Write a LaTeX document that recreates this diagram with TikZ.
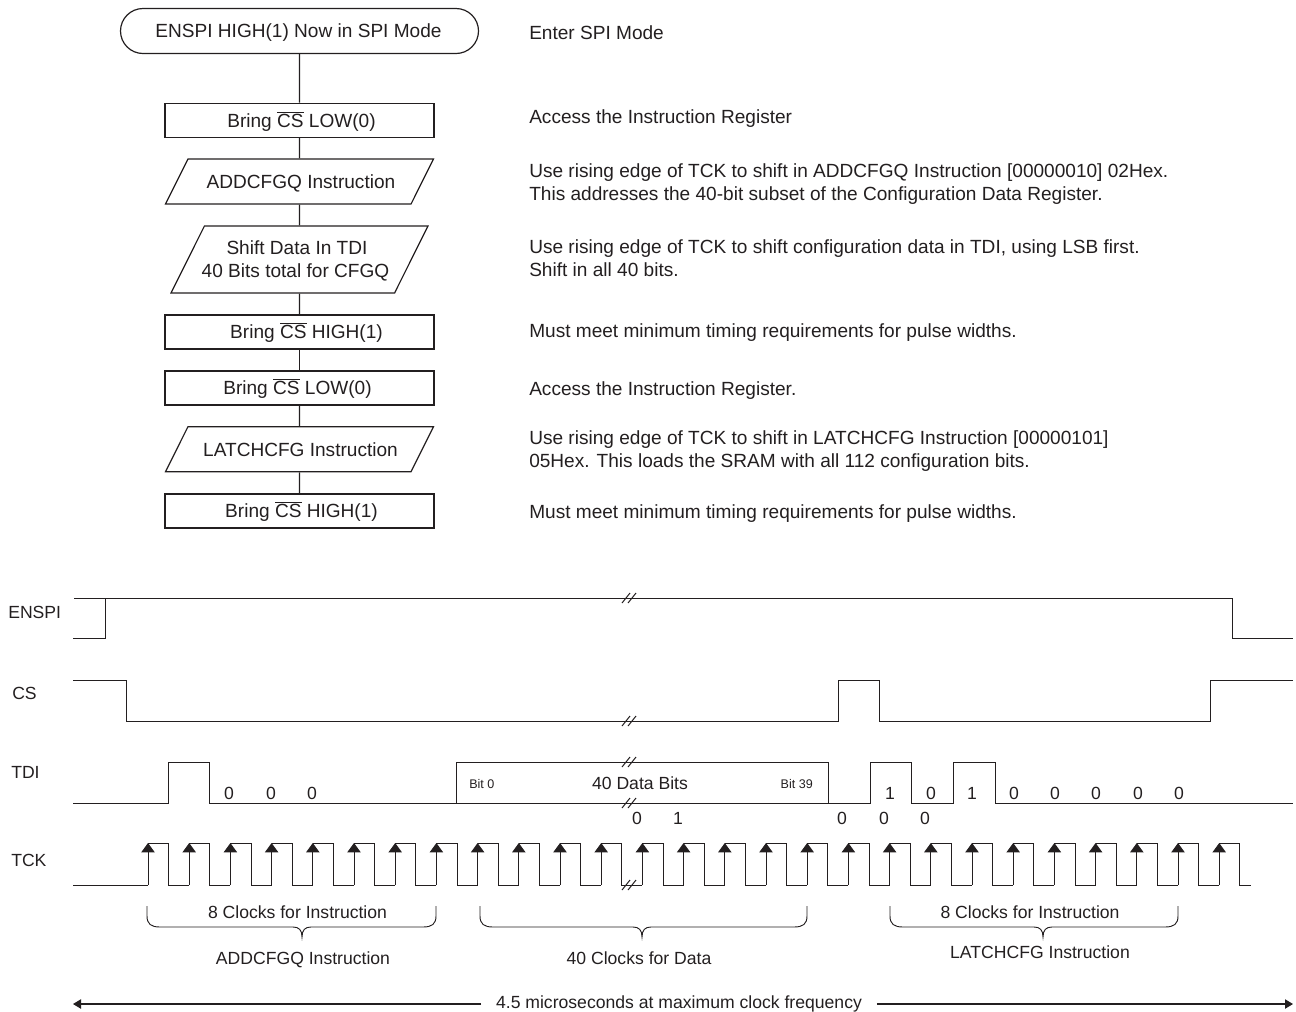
\documentclass[tikz,border=0pt]{standalone}
\usepackage{fontspec}
\setmainfont{Liberation Sans}
\usetikzlibrary{arrows.meta,shapes.geometric,shapes.misc}
\definecolor{ink}{HTML}{231F20}
\tikzset{>=Latex,line width=.8pt,
  every node/.style={font=\fontsize{13.2}{16}\selectfont,text=ink,inner sep=0pt,text height=9.5pt,text depth=0pt},
  flowtext/.style={font=\fontsize{14.3}{17.5}\selectfont,align=center,text height=10.2pt,line width=.9pt},
  twolines/.style={text height=27.7pt},
  terminator/.style={flowtext,rounded rectangle,draw=ink,minimum width=268.5pt,minimum height=33.75pt},
  flowbox/.style={flowtext,rectangle,draw=ink,minimum width=201.75pt,minimum height=25.5pt},
  inputbox/.style={flowtext,trapezium,trapezium stretches body=true,draw=ink,
    trapezium left angle=63.5,trapezium right angle=116.5},
  flowline/.style={draw=ink,line width=.9pt},
  note/.style={font=\fontsize{14.3}{17.5}\selectfont,text height=10.2pt,anchor=west,align=left},
  signal/.style={anchor=west},
  wave/.style={draw=ink,line width=.75pt},
  clockedge/.style={draw=ink,line width=.75pt,-{Triangle[width=10pt,length=7pt]}},
  bitlabel/.style={font=\fontsize{13.2}{16}\selectfont},
  tinylabel/.style={font=\fontsize{9.4}{11}\selectfont,text height=6.8pt},
  brace/.style={draw=ink,line width=.7pt},
  spanline/.style={draw=ink,line width=.8pt,-{Triangle[width=7pt,length=6pt]}}}
\newcommand{\barcs}{$\overline{\mbox{CS}}$}

\begin{document}
\begin{tikzpicture}[x=.75pt,y=-.75pt]
\useasboundingbox (0,0) rectangle (1296,1011);
% flow chart
\node[terminator] (enspi) at (299.5,31) {\hspace*{-.5pt}ENSPI HIGH(1) Now in SPI Mode\hspace*{1pt}};
\node[flowbox] (cslow) at (299.5,120.3) {\hspace*{3pt}Bring \barcs{} LOW(0)};
\node[inputbox,inner ysep=11.8pt,minimum width=201pt] (addcfgq) at (299.5,181.5) {\hspace*{2.2pt}ADDCFGQ Instruction};
\node[inputbox,twolines,inner ysep=11.3pt,minimum width=192.75pt] (shift) at (299.5,259.5) {\hspace*{-3.8pt}Shift Data In TDI\\\hspace*{-6pt}40 Bits total for CFGQ};
\node[flowbox] (cshigh) at (299.5,332) {\hspace*{10.5pt}Bring \barcs{} HIGH(1)};
\node[flowbox] (cslowb) at (299.5,388) {Bring \barcs{} LOW(0)\hspace*{3pt}};
\node[inputbox,inner ysep=11.8pt,minimum width=201pt] (latch) at (299.5,449.2) {\hspace*{1.5pt}LATCHCFG Instruction};
\node[flowbox] (cshighb) at (299.5,511) {\hspace*{3pt}Bring \barcs{} HIGH(1)};
\draw[flowline] (enspi)--(cslow);
\draw[flowline] (cslow)--(addcfgq);
\draw[flowline] (addcfgq)--(shift);
\draw[flowline] (shift)--(cshigh);
\draw[flowline] (cshigh)--(cslowb);
\draw[flowline] (cslowb)--(latch);
\draw[flowline] (latch)--(cshighb);
% notes
\node[note] (n1) at (529,33) {Enter SPI Mode};
\node[note] (n2) at (529,117) {Access the Instruction Register};
\node[note,twolines] (n3) at (529,182.5) {Use rising edge of TCK to shift in ADDCFGQ Instruction [00000010] 02Hex.\\This addresses the 40-bit subset of the Configuration Data Register.};
\node[note,twolines] (n4) at (529,258.5) {Use rising edge of TCK to shift configuration data in TDI, using LSB first.\\Shift in all 40 bits.};
\node[note] (n5) at (529,331) {Must meet minimum timing requirements for pulse widths.};
\node[note] (n6) at (529,388.5) {Access the Instruction Register.};
\node[note,twolines] (n7) at (529,449) {Use rising edge of TCK to shift in LATCHCFG Instruction [00000101]\\05Hex. This loads the SRAM with all 112 configuration bits.};
\node[note] (n8) at (529,512) {Must meet minimum timing requirements for pulse widths.};
% signal names
\node[signal] (lenspi) at (8,612) {ENSPI};
\node[signal] (lcs) at (12,693) {CS};
\node[signal] (ltdi) at (11,772) {TDI};
\node[signal] (ltck) at (11,860) {TCK};
% waveforms
\draw[wave] (73,638)--(105,638)--(105,598)--(1232,598)--(1232,638)--(1293,638);
\draw[wave] (74,598)--(105,598);
\draw[wave] (73,680)--(126,680)--(126,721)--(838,721)--(838,680)--(879,680)--(879,721)--(1210,721)--(1210,680)--(1293,680);
\draw[wave] (73,803)--(168,803)--(168,762)--(209,762)--(209,803)--(456,803)--(456,762)--(828,762)--(828,803)--(870,803)--(870,762)--(911,762)--(911,803)--(953,803)--(953,762)--(995,762)--(995,803)--(1293,803);
\draw[wave] (456,803)--(828,803);
\draw[wave] (73,885)--(148,885);
\foreach \k [evaluate=\k as \xr using 148+41.2*\k,evaluate=\k as \xf using 168.6+41.2*\k] in {0,...,26} {
  \draw[clockedge] (\xr,885)--(\xr,843);
  \draw[wave] (\xr,843)--(\xf,843)--(\xf,885)--({min(\xf+20.6,1251)},885);
}
% break marks
\foreach \y in {598,721,762,803,885} {
  \draw[wave] (622,\y+5)--(630,\y-5);
  \draw[wave] (628,\y+5)--(636,\y-5);
}
% bit values
\foreach \x in {229,271,312,931,1014,1055,1096,1138,1179} {\node[bitlabel] at (\x,793) {0};}
\foreach \x in {890,972} {\node[bitlabel] at (\x,793) {1};}
\foreach \x/\b in {637/0,678/1,842/0,884/0,925/0} {\node[bitlabel] at (\x,818) {\b};}
\node[tinylabel,anchor=west] (bit0) at (469,784) {Bit 0};
\node[tinylabel,anchor=east] (bit39) at (813,784) {Bit 39};
\node (data) at (640,783) {40 Data Bits};
% clock groups
\foreach \l/\m/\r in {147/302/436,480/642/807,890/1043/1178} {
  \draw[brace] (\l,906)--(\l,916) .. controls (\l,924) and (\l+4,927) .. (\l+13,927)--(\m-9,927)
    .. controls (\m-3,927) and (\m,930) .. (\m,937) .. controls (\m,930) and (\m+3,927) .. (\m+9,927)
    --(\r-13,927) .. controls (\r-4,927) and (\r,924) .. (\r,916)--(\r,906);
}
\node (clk1) at (297.5,912) {8 Clocks for Instruction};
\node (clk2) at (1030,912) {8 Clocks for Instruction};
\node (grp1) at (303,958) {ADDCFGQ Instruction};
\node (grp2) at (639,958) {40 Clocks for Data};
\node (grp3) at (1040,952) {LATCHCFG Instruction};
% total time
\node[inner xsep=11pt,inner ysep=2pt] (total) at (679,1002) {4.5 microseconds at maximum clock frequency};
\coordinate (totall) at (73,1004);
\coordinate (totalr) at (1293,1004);
\draw[spanline] (total.west |- totall)--(totall);
\draw[spanline] (total.east |- totalr)--(totalr);
\end{tikzpicture}
\end{document}
